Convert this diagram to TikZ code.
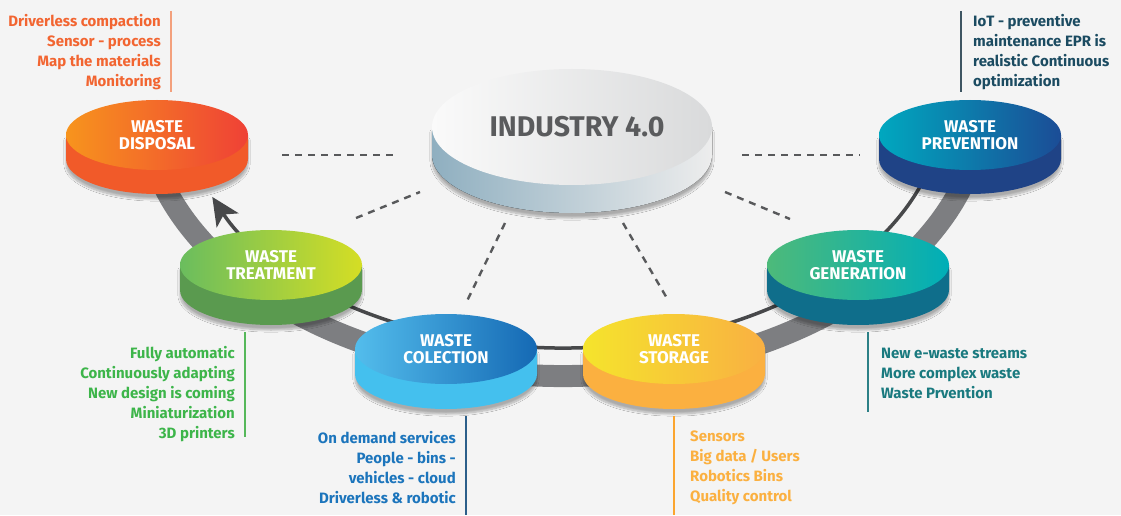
\documentclass[tikz,border=0pt]{standalone}
\usepackage{fontspec}
\setmainfont{Fira Sans}
\usetikzlibrary{calc,shapes.geometric,shadows.blur,arrows.meta}

\definecolor{bggray}{HTML}{F4F4F4}
\definecolor{bandgray}{HTML}{7D7E81}
\definecolor{ringgray}{HTML}{47484A}
\definecolor{linkgray}{HTML}{58595B}
\definecolor{indtext}{HTML}{5A5B5D}
\definecolor{indtopl}{HTML}{FAFAFA}
\definecolor{indtopr}{HTML}{D9DADB}
\definecolor{indsidel}{HTML}{8FAFC0}
\definecolor{indsider}{HTML}{EDEDED}
\definecolor{dispside}{HTML}{F15A29}
\definecolor{displ}{HTML}{F7941D}
\definecolor{dispr}{HTML}{EF4136}
\definecolor{prevside}{HTML}{1F4386}
\definecolor{prevl}{HTML}{00A8BF}
\definecolor{prevr}{HTML}{1B4C96}
\definecolor{treatside}{HTML}{5A9A4F}
\definecolor{treatl}{HTML}{6ABD5E}
\definecolor{treatr}{HTML}{D5DE24}
\definecolor{genside}{HTML}{0F6E8B}
\definecolor{genl}{HTML}{4DBA7A}
\definecolor{genr}{HTML}{00AEB8}
\definecolor{collside}{HTML}{44C0EE}
\definecolor{colll}{HTML}{53BDEC}
\definecolor{collr}{HTML}{1569B4}
\definecolor{storside}{HTML}{FBB040}
\definecolor{storl}{HTML}{F5E42C}
\definecolor{storr}{HTML}{F9B042}
\definecolor{disptext}{HTML}{F26531}
\definecolor{disprule}{HTML}{F3A07C}
\definecolor{prevtext}{HTML}{1B4B61}
\definecolor{prevrule}{HTML}{3E5562}
\definecolor{treattext}{HTML}{3DB54A}
\definecolor{treatrule}{HTML}{56B85A}
\definecolor{colltext}{HTML}{1C75BC}
\definecolor{collrule}{HTML}{2C5F8A}
\definecolor{stortext}{HTML}{FBB040}
\definecolor{storrule}{HTML}{FBA52F}
\definecolor{gentext}{HTML}{1A7A7F}
\definecolor{genrule}{HTML}{2C8086}

% name, centre, height, side, left, right, label
\newcommand{\wastedisc}[7]{%
  \fill[#4, disc shadow] ($(#2)+(-91,0)$) -- ++(0,#3) arc[start angle=180, end angle=0, x radius=91, y radius=35] -- ++(0,-#3) -- cycle;
  \node[disc, left color=#5, right color=#6] (#1) at (#2) {#7};
}

\begin{document}
\begin{tikzpicture}[x=1pt, y=-1pt,
  disc/.style={ellipse, minimum width=182pt, minimum height=70pt, inner sep=0pt, align=center, text=white, font=\bfseries\fontsize{17}{17.5}\selectfont},
  disc shadow/.style={blur shadow={shadow xshift=0pt, shadow yshift=-5pt, shadow blur steps=10, shadow opacity=30}},
  band/.style={draw=bandgray, line width=22pt},
  ringline/.style={draw=ringgray, line width=3.5pt},
  link/.style={draw=linkgray, line width=2.4pt, dash pattern=on 7pt off 6pt},
  info/.style={inner sep=0pt, font=\bfseries\fontsize{15}{20}\selectfont},
  inforule/.style={line width=1.4pt},
]
\fill[bggray] (0,0) rectangle (1121,515);

% ring
\draw[band] (563,100) ++(165:420 and 276) arc[start angle=165, end angle=15, x radius=420, y radius=276];
\draw[ringline, -{Stealth[length=28pt, width=26pt, inset=7pt]}] (563,100) ++(15:381 and 248) arc[start angle=15, end angle=157, x radius=381, y radius=248];

% dashed links
\coordinate (l1a) at (282,155); \coordinate (l1b) at (396,155);
\coordinate (l2a) at (742,155); \coordinate (l2b) at (860,155);
\coordinate (l3a) at (356,218); \coordinate (l3b) at (420,192);
\coordinate (l4a) at (725,192); \coordinate (l4b) at (790,219);
\coordinate (l5a) at (505,223); \coordinate (l5b) at (467,301);
\coordinate (l6a) at (623,223); \coordinate (l6b) at (668,300);
\draw[link] (l1a) -- (l1b);
\draw[link] (l2a) -- (l2b);
\draw[link] (l3a) -- (l3b);
\draw[link] (l4a) -- (l4b);
\draw[link] (l5a) -- (l5b);
\draw[link] (l6a) -- (l6b);

% industry 4.0
\fill[disc shadow, left color=indsidel, right color=indsider] (432,127) -- ++(0,28) arc[start angle=180, end angle=0, x radius=140, y radius=58] -- ++(0,-28) -- cycle;
\node[ellipse, minimum width=280pt, minimum height=116pt, inner sep=0pt, left color=indtopl, right color=indtopr] (ind) at (572,127) {};
\node[text=indtext, font=\bfseries\fontsize{28.5}{28.5}\selectfont] (indlabel) at (577,127) {INDUSTRY 4.0};

% discs
\wastedisc{disp}{157,135}{24}{dispside}{displ}{dispr}{WASTE\\DISPOSAL}
\wastedisc{prev}{970,135}{24}{prevside}{prevl}{prevr}{WASTE\\PREVENTION}
\wastedisc{treat}{271,265}{25}{treatside}{treatl}{treatr}{WASTE\\TREATMENT}
\wastedisc{gen}{858,265}{25}{genside}{genl}{genr}{WASTE\\GENERATION}
\wastedisc{coll}{446,349}{25}{collside}{colll}{collr}{WASTE\\COLECTION}
\wastedisc{stor}{674,349}{25}{storside}{storl}{storr}{WASTE\\STORAGE}

% notes
\node[info, text=disptext, align=right, anchor=north east] (disptxt) at (161,14) {Driverless compaction\\Sensor - process\\Map the materials\\Monitoring};
\draw[inforule, disprule] (171,11) -- (171,92);
\node[info, text=prevtext, align=left, anchor=north west] (prevtxt) at (973,14) {IoT - preventive\\maintenance EPR is\\realistic Continuous\\optimization};
\draw[inforule, prevrule] (961,11) -- (961,92);
\node[info, text=treattext, align=right, anchor=north east] (treattxt) at (235,346) {Fully automatic\\Continuously adapting\\New design is coming\\Miniaturization\\3D printers};
\draw[inforule, treatrule] (245,332) -- (245,437);
\node[info, text=colltext, align=right, anchor=north east] (colltxt) at (456,431) {On demand services\\People - bins -\\vehicles - cloud\\Driverless \& robotic};
\draw[inforule, collrule] (466,416) -- (466,515);
\node[info, text=stortext, align=left, anchor=north west] (stortxt) at (690,431) {Sensors\\Big data / Users\\Robotics Bins\\Quality control};
\draw[inforule, storrule] (674,416) -- (674,515);
\node[info, text=gentext, align=left, anchor=north west] (gentxt) at (881,348) {New e-waste streams\\More complex waste\\Waste Prvention};
\draw[inforule, genrule] (868,332) -- (868,412);
\end{tikzpicture}
\end{document}
